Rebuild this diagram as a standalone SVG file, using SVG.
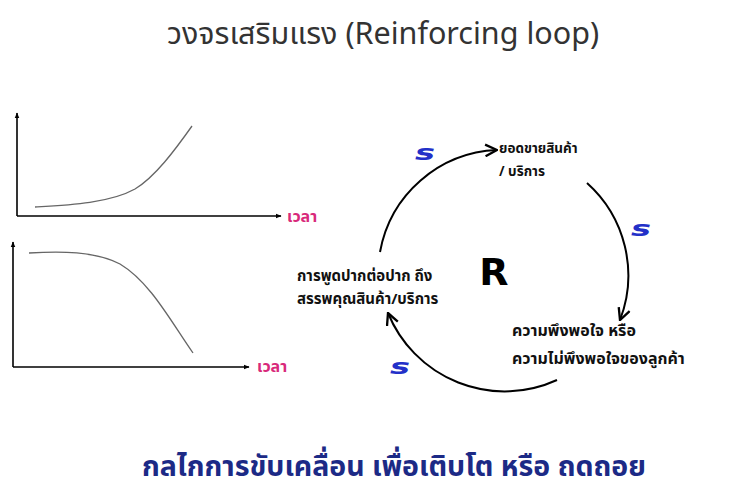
<svg xmlns="http://www.w3.org/2000/svg" width="755" height="491" viewBox="0 0 755 491">
<defs>
<style>
.title{font-family:"Noto Sans Thai","Noto Sans","Liberation Sans",sans-serif;font-size:30.5px;fill:#333}
.axis{stroke:#000;stroke-width:1.6;fill:none}
.curve{stroke:#666;stroke-width:1.3;fill:none}
.time{font-family:"Noto Sans Thai","Noto Sans","Liberation Sans",sans-serif;font-size:16px;font-weight:bold;fill:#d8297a}
.lbl{font-family:"Noto Sans Thai","Noto Sans","Liberation Sans",sans-serif;font-size:13.5px;font-weight:bold;fill:#111}
.lbl2{font-family:"Noto Sans Thai","Noto Sans","Liberation Sans",sans-serif;font-size:15px;font-weight:bold;fill:#111}
.lbl3{font-family:"Noto Sans Thai","Noto Sans","Liberation Sans",sans-serif;font-size:16px;font-weight:bold;fill:#111}
.loop{stroke:#000;stroke-width:2;fill:none}
.s{font-family:"DejaVu Sans","Liberation Sans",sans-serif;font-size:21px;font-weight:bold;font-style:italic;fill:#2330c8}
.r{font-family:"DejaVu Sans","Liberation Sans",sans-serif;font-size:38px;font-weight:bold;fill:#000}
.foot{font-family:"Noto Sans Thai","Noto Sans","Liberation Sans",sans-serif;font-size:28.5px;font-weight:bold;fill:#1c2a86}
</style>
<marker id="ax" viewBox="0 0 10 10" refX="9" refY="5" markerWidth="6" markerHeight="6" orient="auto" markerUnits="userSpaceOnUse">
<path d="M0,1 L10,5 L0,9 Z" fill="#000"/>
</marker>
<marker id="open" viewBox="0 0 12 12" refX="11" refY="6" markerWidth="14" markerHeight="14" orient="auto" markerUnits="userSpaceOnUse">
<path d="M1,1 L11,6 L1,11" fill="none" stroke="#000" stroke-width="2"/>
</marker>
</defs>
<rect width="755" height="491" fill="#fff"/>
<text class="title" x="383" y="44" text-anchor="middle">วงจรเสริมแรง (Reinforcing loop)</text>

<g id="graph-growth">
<path class="axis" d="M17,216 L17,113" marker-end="url(#ax)"/>
<path class="axis" d="M17,216 L281,216" marker-end="url(#ax)"/>
<path class="curve" d="M35,207 C70,205 110,203 135,189 C155,177 175,150 192,126"/>
<text class="time" x="287" y="222">เวลา</text>
</g>

<g id="graph-decline">
<path class="axis" d="M13,367 L13,242" marker-end="url(#ax)"/>
<path class="axis" d="M13,367 L249,367" marker-end="url(#ax)"/>
<path class="curve" d="M29,253 C60,251 95,251 120,264 C150,282 170,320 193,353"/>
<text class="time" x="257" y="372">เวลา</text>
</g>

<g id="connectors">
<path class="loop" d="M380,252 A124 124 0 0 1 497,150" marker-end="url(#open)"/>
<path class="loop" d="M587,183 A124 124 0 0 1 620,320" marker-end="url(#open)"/>
<path class="loop" d="M557,380 A126 126 0 0 1 388,313" marker-end="url(#open)"/>
</g>

<g id="node-sales">
<text class="lbl" x="499" y="153">ยอดขายสินค้า</text>
<text class="lbl" x="499" y="176">/ บริการ</text>
</g>
<g id="node-satisfaction">
<text class="lbl3" x="512" y="336">ความพึงพอใจ หรือ</text>
<text class="lbl3" x="512" y="364">ความไม่พึงพอใจของลูกค้า</text>
</g>
<g id="node-wordofmouth">
<text class="lbl2" x="297" y="281">การพูดปากต่อปาก ถึง</text>
<text class="lbl2" x="297" y="304">สรรพคุณสินค้า/บริการ</text>
</g>

<text class="r" x="494" y="285" text-anchor="middle">R</text>
<text class="s" x="415" y="160" textLength="20" lengthAdjust="spacingAndGlyphs">s</text>
<text class="s" x="631" y="236" textLength="20" lengthAdjust="spacingAndGlyphs">s</text>
<text class="s" x="390" y="374" textLength="20" lengthAdjust="spacingAndGlyphs">s</text>

<text class="foot" x="394" y="476" text-anchor="middle">กลไกการขับเคลื่อน เพื่อเติบโต หรือ ถดถอย</text>
</svg>
